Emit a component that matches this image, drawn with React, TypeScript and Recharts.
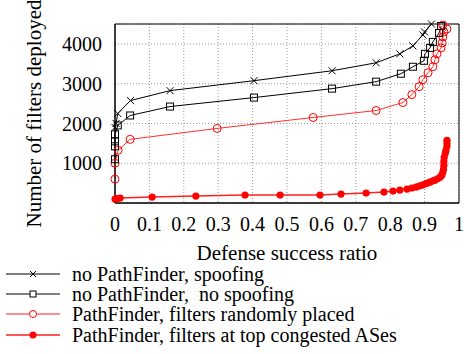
import { LineChart, Line, XAxis, YAxis, CartesianGrid, ReferenceArea } from 'recharts'

const xTicks = [0, 0.1, 0.2, 0.3, 0.4, 0.5, 0.6, 0.7, 0.8, 0.9, 1]
const yTicks = [1000, 2000, 3000, 4000]

// [defense success ratio, filters deployed]
const spoofing: [number, number][] = [
  [0, 1900], [0.003, 2000], [0.008, 2250], [0.045, 2575], [0.16, 2825],
  [0.404, 3075], [0.631, 3325], [0.759, 3525], [0.828, 3750], [0.866, 3950],
  [0.895, 4225], [0.9, 4300], [0.92, 4500],
]

const noSpoofing: [number, number][] = [
  [0, 1100], [0, 1425], [0, 1550], [0, 1725], [0.008, 1950], [0.044, 2200],
  [0.16, 2425], [0.404, 2650], [0.631, 2875], [0.759, 3050], [0.831, 3250],
  [0.866, 3425], [0.898, 3575], [0.901, 3750], [0.916, 3900], [0.924, 4050],
  [0.942, 4275], [0.948, 4450],
]

const randomPlaced: [number, number][] = [
  [0, 600], [0, 1000], [0.009, 1325], [0.044, 1600], [0.297, 1875],
  [0.576, 2150], [0.759, 2325], [0.837, 2525], [0.863, 2725], [0.884, 2925],
  [0.895, 3100], [0.91, 3275], [0.924, 3425], [0.93, 3600], [0.936, 3750],
  [0.948, 3900], [0.951, 4025], [0.953, 4175], [0.956, 4300], [0.965, 4375],
  [0.953, 4475],
]

const topCongested: [number, number][] = [
  [0, 100], [0.006, 110], [0.015, 125], [0.108, 150], [0.235, 175],
  [0.378, 200], [0.48, 200], [0.596, 200], [0.657, 225], [0.73, 250],
  [0.782, 275], [0.808, 300], [0.828, 325], [0.849, 350], [0.863, 375],
  [0.875, 400], [0.884, 425], [0.893, 450], [0.901, 475], [0.908, 500],
  [0.916, 525], [0.923, 550], [0.93, 575], [0.938, 610], [0.945, 650],
  [0.95, 700], [0.953, 775], [0.955, 850], [0.956, 950], [0.956, 1050],
  [0.957, 1150], [0.96, 1250], [0.962, 1325], [0.965, 1425], [0.965, 1500],
  [0.965, 1575],
]

const legendLabels = [
  'no PathFinder, spoofing',
  'no PathFinder,  no spoofing',
  'PathFinder, filters randomly placed',
  'PathFinder, filters at top congested ASes',
]

const font = 'Liberation Serif, Times New Roman, serif'
const RED = '#ff0000'
const tickStyle = { fontFamily: font, fontSize: 20, fill: '#000' }
const textStyle = { fontFamily: font, fontSize: 21, fill: '#000' }

const toRows = (pts: [number, number][]) => pts.map(([x, y]) => ({ x, y }))

function cross(p: any) {
  const { cx, cy, index } = p
  const s = 3.5
  return (
    <path key={`c${index}`} d={`M${cx - s},${cy - s}L${cx + s},${cy + s}M${cx + s},${cy - s}L${cx - s},${cy + s}`} stroke="#000" strokeWidth={1} fill="none" />
  )
}

function square(p: any) {
  const { cx, cy, index } = p
  return <rect key={`s${index}`} x={cx - 3.5} y={cy - 3.5} width={7} height={7} fill="none" stroke="#000" strokeWidth={1} />
}

function ring(p: any) {
  const { cx, cy, index } = p
  return <circle key={`r${index}`} cx={cx} cy={cy} r={4} fill="none" stroke={RED} strokeWidth={1} />
}

function disc(p: any) {
  const { cx, cy, index } = p
  return <circle key={`d${index}`} cx={cx} cy={cy} r={3.6} fill={RED} stroke="none" />
}

function Legend() {
  const rows = [274, 294, 314, 335]
  const lineColors = ['#000', '#000', '#ff6b6b', '#ff2020']
  return (
    <svg width={464} height={354} style={{ position: 'absolute', left: 0, top: 0, pointerEvents: 'none' }}>
      {legendLabels.map((label, i) => {
        const y = rows[i]
        return (
          <g key={label}>
            <line x1={6} x2={60} y1={y} y2={y} stroke={lineColors[i]} strokeWidth={i >= 2 ? 1.5 : 1} />
            {i === 0 && <path d={`M30,${y - 3}L36,${y + 3}M36,${y - 3}L30,${y + 3}`} stroke="#000" strokeWidth={1} />}
            {i === 1 && <rect x={30} y={y - 3} width={6} height={6} fill="#fff" stroke="#000" strokeWidth={1} />}
            {i === 2 && <circle cx={33} cy={y} r={3.5} fill="#fff" stroke={RED} strokeWidth={1} />}
            {i === 3 && <circle cx={33} cy={y} r={3.5} fill={RED} />}
            <text x={72} y={y + 6.5} style={{ ...tickStyle, whiteSpace: 'pre' }}>{label}</text>
          </g>
        )
      })}
    </svg>
  )
}

export default function App() {
  return (
    <div style={{ position: 'absolute', left: 0, top: 0, width: 464, height: 354, background: '#fff', fontFamily: font }}>
      <LineChart width={464} height={354} margin={{ top: 24, right: 5, left: 0, bottom: 91 }} style={{ fontFamily: font }}>
        <CartesianGrid stroke="#999" strokeDasharray="1 2" />
        <XAxis
          type="number"
          dataKey="x"
          domain={[0, 1]}
          ticks={xTicks}
          interval={0}
          height={60}
          tickSize={6}
          tickMargin={8}
          tickLine={false}
          axisLine={{ stroke: '#000' }}
          tick={{ ...tickStyle, style: tickStyle }}
          label={{ value: 'Defense success ratio', position: 'insideBottom', offset: 3, ...textStyle, style: textStyle }}
        />
        <YAxis
          type="number"
          dataKey="y"
          domain={[0, 4500]}
          ticks={yTicks}
          interval={0}
          width={115}
          tickSize={6}
          tickMargin={7}
          tickLine={false}
          axisLine={{ stroke: '#000' }}
          tick={{ ...tickStyle, style: tickStyle }}
          label={{ value: 'Number of filters deployed', angle: -90, position: 'insideLeft', offset: 34, ...textStyle, style: { ...textStyle, textAnchor: 'middle' } }}
        />
        <ReferenceArea x1={0} x2={1} y1={0} y2={4500} fill="none" stroke="#000" strokeWidth={1} ifOverflow="visible" />
        <Line data={toRows(topCongested)} dataKey="y" stroke="#ff2020" strokeWidth={1.5} dot={disc} isAnimationActive={false} />
        <Line data={toRows(randomPlaced)} dataKey="y" stroke="#ff3030" strokeWidth={1} dot={ring} isAnimationActive={false} />
        <Line data={toRows(noSpoofing)} dataKey="y" stroke="#000" strokeWidth={1} dot={square} isAnimationActive={false} />
        <Line data={toRows(spoofing)} dataKey="y" stroke="#000" strokeWidth={1} dot={cross} isAnimationActive={false} />
      </LineChart>
      <Legend />
    </div>
  )
}
